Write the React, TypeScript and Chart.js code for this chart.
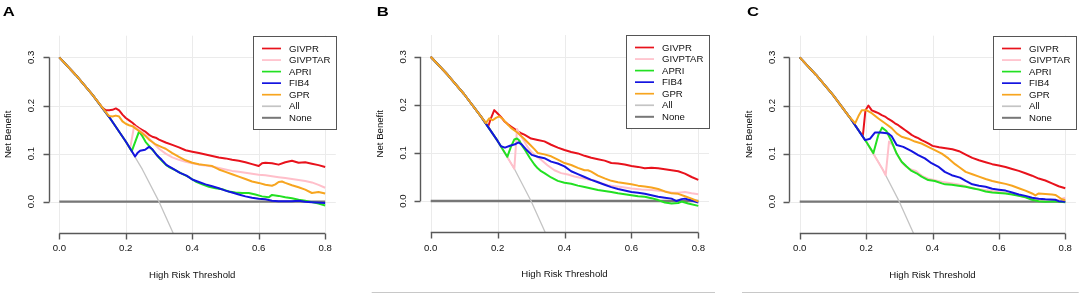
import React, { useEffect, useRef } from "react";
import { Chart, registerables } from "chart.js";
Chart.register(...registerables);

type P = [number, number][];

const xTicks = [0, 0.2, 0.4, 0.6, 0.8];
const xTickLabels = ["0.0", "0.2", "0.4", "0.6", "0.8"];
const yTicks = [0, 0.1, 0.2, 0.3];
const yTickLabels = ["0.0", "0.1", "0.2", "0.3"];
const xTitle = "High Risk Threshold";
const yTitle = "Net Benefit";
const legendNames = ["GIVPR", "GIVPTAR", "APRI", "FIB4", "GPR", "All", "None"];
const panelLetters = ["A", "B", "C"];

const allLine: P = [[0, 0.3], [0.05, 0.263], [0.1, 0.222], [0.15, 0.176], [0.2, 0.125], [0.25, 0.067], [0.3, 0], [0.35, -0.077]];
const noneLine: P = [[0, 0], [0.8, 0]];

// ---- Panel A ----
const A_GIVPR: P = [[0, 0.3], [0.05, 0.263], [0.1, 0.222], [0.13, 0.195], [0.14, 0.19], [0.15, 0.19], [0.16, 0.191], [0.17, 0.194], [0.18, 0.19], [0.19, 0.181], [0.2, 0.174], [0.21, 0.169], [0.22, 0.164], [0.23, 0.158], [0.24, 0.153], [0.25, 0.149], [0.26, 0.145], [0.27, 0.139], [0.28, 0.135], [0.29, 0.133], [0.3, 0.129], [0.32, 0.123], [0.34, 0.118], [0.36, 0.113], [0.38, 0.107], [0.4, 0.104], [0.42, 0.101], [0.44, 0.098], [0.46, 0.095], [0.48, 0.092], [0.5, 0.09], [0.52, 0.087], [0.54, 0.085], [0.56, 0.082], [0.58, 0.078], [0.6, 0.074], [0.61, 0.08], [0.62, 0.081], [0.64, 0.08], [0.66, 0.077], [0.68, 0.082], [0.7, 0.085], [0.72, 0.081], [0.74, 0.082], [0.76, 0.079], [0.78, 0.076], [0.8, 0.072]];
const A_GIVPTAR: P = [[0, 0.3], [0.05, 0.263], [0.1, 0.222], [0.15, 0.176], [0.2, 0.125], [0.213, 0.11], [0.225, 0.157], [0.24, 0.15], [0.26, 0.139], [0.28, 0.124], [0.3, 0.11], [0.32, 0.1], [0.34, 0.092], [0.36, 0.087], [0.38, 0.083], [0.4, 0.08], [0.42, 0.077], [0.44, 0.075], [0.46, 0.073], [0.48, 0.07], [0.5, 0.067], [0.52, 0.064], [0.54, 0.062], [0.56, 0.06], [0.58, 0.058], [0.6, 0.056], [0.62, 0.055], [0.64, 0.053], [0.66, 0.051], [0.68, 0.049], [0.7, 0.047], [0.72, 0.045], [0.74, 0.043], [0.76, 0.04], [0.78, 0.035], [0.8, 0.029]];
const A_APRI: P = [[0, 0.3], [0.05, 0.263], [0.1, 0.222], [0.15, 0.176], [0.2, 0.125], [0.218, 0.105], [0.24, 0.146], [0.25, 0.136], [0.26, 0.124], [0.27, 0.116], [0.28, 0.108], [0.29, 0.1], [0.3, 0.091], [0.31, 0.084], [0.32, 0.077], [0.33, 0.072], [0.35, 0.065], [0.37, 0.058], [0.39, 0.051], [0.41, 0.042], [0.43, 0.036], [0.45, 0.031], [0.47, 0.028], [0.49, 0.026], [0.51, 0.021], [0.53, 0.019], [0.55, 0.018], [0.57, 0.018], [0.59, 0.015], [0.61, 0.011], [0.63, 0.009], [0.64, 0.014], [0.66, 0.012], [0.68, 0.009], [0.7, 0.007], [0.72, 0.004], [0.74, 0.002], [0.76, -0.001], [0.78, -0.004], [0.8, -0.008]];
const A_FIB4: P = [[0, 0.3], [0.05, 0.263], [0.1, 0.222], [0.15, 0.176], [0.2, 0.125], [0.228, 0.094], [0.235, 0.101], [0.243, 0.106], [0.258, 0.108], [0.27, 0.114], [0.28, 0.109], [0.293, 0.097], [0.308, 0.087], [0.323, 0.076], [0.343, 0.068], [0.363, 0.06], [0.383, 0.054], [0.4, 0.046], [0.42, 0.041], [0.44, 0.036], [0.46, 0.032], [0.48, 0.028], [0.5, 0.023], [0.52, 0.019], [0.54, 0.015], [0.56, 0.011], [0.58, 0.008], [0.6, 0.006], [0.62, 0.005], [0.64, 0.002], [0.66, 0.001], [0.7, 0.001], [0.72, 0.002], [0.74, 0.0], [0.76, -0.001], [0.8, -0.003]];
const A_GPR: P = [[0, 0.3], [0.05, 0.263], [0.1, 0.222], [0.13, 0.195], [0.14, 0.186], [0.15, 0.178], [0.16, 0.177], [0.17, 0.179], [0.18, 0.177], [0.19, 0.167], [0.2, 0.162], [0.21, 0.159], [0.22, 0.157], [0.23, 0.152], [0.24, 0.147], [0.25, 0.142], [0.26, 0.136], [0.27, 0.129], [0.28, 0.124], [0.29, 0.119], [0.3, 0.116], [0.31, 0.113], [0.32, 0.11], [0.34, 0.101], [0.36, 0.093], [0.38, 0.086], [0.4, 0.081], [0.42, 0.078], [0.44, 0.076], [0.46, 0.074], [0.48, 0.067], [0.5, 0.062], [0.52, 0.057], [0.54, 0.052], [0.56, 0.047], [0.58, 0.042], [0.6, 0.039], [0.62, 0.035], [0.64, 0.033], [0.65, 0.036], [0.66, 0.041], [0.67, 0.042], [0.68, 0.039], [0.7, 0.034], [0.72, 0.03], [0.74, 0.025], [0.76, 0.018], [0.78, 0.02], [0.8, 0.017]];

// ---- Panel B ----
const B_GIVPR: P = [[0, 0.3], [0.05, 0.263], [0.1, 0.222], [0.15, 0.176], [0.172, 0.155], [0.18, 0.172], [0.19, 0.189], [0.2, 0.182], [0.21, 0.175], [0.22, 0.166], [0.23, 0.16], [0.24, 0.155], [0.25, 0.15], [0.26, 0.145], [0.27, 0.141], [0.28, 0.138], [0.29, 0.134], [0.3, 0.13], [0.32, 0.127], [0.34, 0.124], [0.36, 0.117], [0.38, 0.111], [0.4, 0.106], [0.42, 0.102], [0.44, 0.099], [0.46, 0.094], [0.48, 0.09], [0.5, 0.087], [0.52, 0.084], [0.54, 0.079], [0.56, 0.078], [0.58, 0.076], [0.6, 0.073], [0.62, 0.071], [0.64, 0.068], [0.66, 0.069], [0.68, 0.068], [0.7, 0.066], [0.72, 0.064], [0.74, 0.062], [0.76, 0.057], [0.78, 0.05], [0.8, 0.044]];
const B_GIVPTAR: P = [[0, 0.3], [0.05, 0.263], [0.1, 0.222], [0.15, 0.176], [0.2, 0.125], [0.25, 0.067], [0.258, 0.15], [0.265, 0.14], [0.28, 0.124], [0.29, 0.112], [0.3, 0.103], [0.31, 0.096], [0.33, 0.086], [0.35, 0.074], [0.37, 0.064], [0.39, 0.058], [0.41, 0.055], [0.43, 0.051], [0.45, 0.048], [0.47, 0.045], [0.49, 0.043], [0.51, 0.037], [0.53, 0.033], [0.55, 0.031], [0.57, 0.029], [0.6, 0.026], [0.63, 0.024], [0.66, 0.023], [0.69, 0.021], [0.72, 0.018], [0.74, 0.017], [0.76, 0.019], [0.78, 0.016], [0.8, 0.014]];
const B_APRI: P = [[0, 0.3], [0.05, 0.263], [0.1, 0.222], [0.15, 0.176], [0.2, 0.125], [0.229, 0.092], [0.24, 0.113], [0.25, 0.128], [0.258, 0.13], [0.265, 0.126], [0.272, 0.116], [0.282, 0.106], [0.297, 0.089], [0.31, 0.076], [0.32, 0.068], [0.33, 0.062], [0.34, 0.058], [0.36, 0.049], [0.38, 0.042], [0.4, 0.038], [0.42, 0.036], [0.44, 0.032], [0.46, 0.029], [0.48, 0.026], [0.5, 0.023], [0.52, 0.021], [0.54, 0.019], [0.56, 0.016], [0.58, 0.014], [0.6, 0.012], [0.62, 0.01], [0.64, 0.009], [0.66, 0.006], [0.68, 0.002], [0.7, -0.003], [0.72, -0.005], [0.74, -0.004], [0.75, -0.001], [0.77, -0.005], [0.8, -0.01]];
const B_FIB4: P = [[0, 0.3], [0.05, 0.263], [0.1, 0.222], [0.15, 0.176], [0.2, 0.125], [0.21, 0.114], [0.222, 0.111], [0.237, 0.115], [0.252, 0.118], [0.262, 0.122], [0.272, 0.118], [0.287, 0.106], [0.302, 0.096], [0.32, 0.092], [0.34, 0.089], [0.36, 0.082], [0.38, 0.078], [0.4, 0.072], [0.42, 0.062], [0.44, 0.056], [0.46, 0.05], [0.48, 0.044], [0.5, 0.039], [0.52, 0.034], [0.54, 0.029], [0.56, 0.025], [0.58, 0.022], [0.6, 0.019], [0.62, 0.017], [0.64, 0.015], [0.66, 0.012], [0.68, 0.009], [0.7, 0.007], [0.72, 0.005], [0.735, 0.0], [0.75, 0.004], [0.76, 0.005], [0.775, 0.002], [0.8, -0.003]];
const B_GPR: P = [[0, 0.3], [0.05, 0.263], [0.1, 0.222], [0.15, 0.176], [0.165, 0.162], [0.175, 0.172], [0.185, 0.168], [0.195, 0.173], [0.205, 0.176], [0.215, 0.171], [0.225, 0.163], [0.24, 0.152], [0.26, 0.142], [0.28, 0.129], [0.3, 0.115], [0.31, 0.108], [0.32, 0.1], [0.34, 0.097], [0.36, 0.093], [0.38, 0.086], [0.4, 0.079], [0.42, 0.075], [0.44, 0.069], [0.46, 0.064], [0.47, 0.064], [0.48, 0.061], [0.5, 0.053], [0.52, 0.047], [0.54, 0.042], [0.56, 0.039], [0.58, 0.037], [0.6, 0.035], [0.62, 0.032], [0.64, 0.03], [0.66, 0.028], [0.68, 0.025], [0.7, 0.02], [0.72, 0.016], [0.74, 0.015], [0.76, 0.01], [0.78, 0.005], [0.8, -0.001]];

// ---- Panel C ----
const C_GIVPR: P = [[0, 0.3], [0.05, 0.263], [0.1, 0.222], [0.15, 0.176], [0.19, 0.136], [0.198, 0.19], [0.207, 0.2], [0.217, 0.19], [0.227, 0.187], [0.237, 0.184], [0.247, 0.18], [0.257, 0.177], [0.267, 0.172], [0.277, 0.168], [0.287, 0.163], [0.297, 0.159], [0.307, 0.154], [0.317, 0.149], [0.327, 0.144], [0.337, 0.139], [0.347, 0.135], [0.357, 0.132], [0.367, 0.128], [0.377, 0.125], [0.39, 0.12], [0.4, 0.116], [0.42, 0.113], [0.44, 0.111], [0.46, 0.109], [0.48, 0.105], [0.5, 0.098], [0.52, 0.091], [0.54, 0.086], [0.56, 0.082], [0.58, 0.078], [0.6, 0.075], [0.62, 0.072], [0.64, 0.068], [0.66, 0.064], [0.68, 0.059], [0.7, 0.054], [0.72, 0.048], [0.74, 0.044], [0.76, 0.038], [0.78, 0.032], [0.8, 0.028]];
const C_GIVPTAR: P = [[0, 0.3], [0.05, 0.263], [0.1, 0.222], [0.15, 0.176], [0.2, 0.125], [0.25, 0.067], [0.259, 0.055], [0.269, 0.125], [0.28, 0.118], [0.29, 0.103], [0.3, 0.09], [0.31, 0.08], [0.32, 0.073], [0.33, 0.068], [0.34, 0.066], [0.35, 0.064], [0.36, 0.058], [0.37, 0.053], [0.39, 0.047], [0.41, 0.044], [0.43, 0.041], [0.45, 0.039], [0.47, 0.037], [0.49, 0.034], [0.51, 0.03], [0.53, 0.027], [0.55, 0.025], [0.57, 0.023], [0.6, 0.02], [0.63, 0.017], [0.66, 0.013], [0.69, 0.008], [0.72, 0.003], [0.75, 0.002], [0.78, 0.004], [0.8, 0.008]];
const C_APRI: P = [[0, 0.3], [0.05, 0.263], [0.1, 0.222], [0.15, 0.176], [0.2, 0.125], [0.222, 0.101], [0.237, 0.139], [0.248, 0.154], [0.261, 0.147], [0.277, 0.125], [0.292, 0.1], [0.307, 0.083], [0.322, 0.073], [0.337, 0.064], [0.352, 0.059], [0.367, 0.052], [0.387, 0.045], [0.407, 0.043], [0.428, 0.038], [0.438, 0.036], [0.458, 0.035], [0.478, 0.033], [0.5, 0.031], [0.52, 0.028], [0.54, 0.025], [0.56, 0.021], [0.58, 0.019], [0.6, 0.018], [0.62, 0.017], [0.64, 0.015], [0.66, 0.012], [0.68, 0.009], [0.7, 0.004], [0.72, 0.001], [0.74, 0.0], [0.77, 0.001], [0.8, -0.001]];
const C_FIB4: P = [[0, 0.3], [0.05, 0.263], [0.1, 0.222], [0.15, 0.176], [0.197, 0.128], [0.212, 0.131], [0.227, 0.144], [0.242, 0.144], [0.257, 0.143], [0.267, 0.142], [0.277, 0.136], [0.292, 0.118], [0.312, 0.114], [0.337, 0.105], [0.357, 0.097], [0.377, 0.09], [0.397, 0.08], [0.417, 0.073], [0.437, 0.062], [0.458, 0.055], [0.483, 0.05], [0.5, 0.043], [0.52, 0.036], [0.54, 0.033], [0.56, 0.031], [0.58, 0.027], [0.6, 0.025], [0.62, 0.023], [0.64, 0.019], [0.66, 0.015], [0.68, 0.012], [0.7, 0.008], [0.72, 0.006], [0.74, 0.005], [0.77, 0.004], [0.78, 0.001], [0.8, 0.0]];
const C_GPR: P = [[0, 0.3], [0.05, 0.263], [0.1, 0.222], [0.15, 0.176], [0.167, 0.163], [0.177, 0.178], [0.187, 0.19], [0.202, 0.19], [0.217, 0.184], [0.237, 0.173], [0.257, 0.163], [0.277, 0.153], [0.292, 0.142], [0.307, 0.135], [0.327, 0.131], [0.347, 0.125], [0.367, 0.121], [0.387, 0.114], [0.407, 0.107], [0.428, 0.1], [0.448, 0.09], [0.468, 0.078], [0.48, 0.072], [0.5, 0.062], [0.52, 0.057], [0.54, 0.052], [0.56, 0.047], [0.58, 0.043], [0.6, 0.04], [0.62, 0.037], [0.64, 0.033], [0.66, 0.028], [0.68, 0.023], [0.7, 0.017], [0.71, 0.013], [0.72, 0.017], [0.74, 0.016], [0.76, 0.015], [0.77, 0.014], [0.79, 0.005], [0.8, 0.003]];

const COLORS: Record<string, string> = {
  GIVPR: "#e8121c",
  GIVPTAR: "#ffbfca",
  APRI: "#22e022",
  FIB4: "#1414e0",
  GPR: "#f7a51f",
  All: "#c4c4c4",
  None: "#777777",
};

const FONT = '"Liberation Sans", Arial, sans-serif';

type PanelCfg = {
  letter: string;
  left: number;
  width: number;
  pad: { left: number; right: number; top: number; bottom: number };
  letterX: number;
  rule: [number, number] | null;
  series: P[];
};

const panels: PanelCfg[] = [
  { letter: panelLetters[0], left: 0, width: 361, pad: { left: 48.7, right: 25.2, top: 35.7, bottom: 61 }, letterX: 2.7, rule: null, series: [A_GIVPR, A_GIVPTAR, A_APRI, A_FIB4, A_GPR] },
  { letter: panelLetters[1], left: 361, width: 361, pad: { left: 59, right: 13, top: 35, bottom: 61.6 }, letterX: 15.7, rule: [10.7, 354], series: [B_GIVPR, B_GIVPTAR, B_APRI, B_FIB4, B_GPR] },
  { letter: panelLetters[2], left: 722, width: 362, pad: { left: 67.1, right: 8.1, top: 35.7, bottom: 61 }, letterX: 25, rule: [20, 356.7], series: [C_GIVPR, C_GIVPTAR, C_APRI, C_FIB4, C_GPR] },
];

function makePlugin(cfg: PanelCfg) {
  return {
    id: "rstyle" + cfg.letter,
    beforeDatasetsDraw(chart: any) {
      const { ctx, chartArea: ca } = chart;
      const x = chart.scales.x;
      const y = chart.scales.y;
      ctx.save();
      ctx.strokeStyle = "#ebebeb";
      ctx.lineWidth = 1;
      for (const t of xTicks) {
        const px = Math.round(x.getPixelForValue(t)) + 0.5;
        ctx.beginPath();
        ctx.moveTo(px, ca.top);
        ctx.lineTo(px, ca.bottom);
        ctx.stroke();
      }
      for (const v of yTicks) {
        const py = Math.round(y.getPixelForValue(v)) + 0.5;
        ctx.beginPath();
        ctx.moveTo(ca.left, py);
        ctx.lineTo(ca.right, py);
        ctx.stroke();
      }
      ctx.restore();
    },
    afterDatasetsDraw(chart: any) {
      const { ctx, chartArea: ca } = chart;
      const x = chart.scales.x;
      const y = chart.scales.y;
      ctx.save();
      // axes
      ctx.strokeStyle = "#585858";
      ctx.lineWidth = 1.4;
      const by = Math.round(ca.bottom) + 0.5;
      ctx.beginPath();
      ctx.moveTo(x.getPixelForValue(xTicks[0]), by);
      ctx.lineTo(x.getPixelForValue(xTicks[xTicks.length - 1]), by);
      for (const t of xTicks) {
        const px = Math.round(x.getPixelForValue(t)) + 0.5;
        ctx.moveTo(px, by);
        ctx.lineTo(px, by + 6);
      }
      ctx.stroke();
      const lx = Math.round(ca.left) + 0.5;
      ctx.beginPath();
      ctx.moveTo(lx, y.getPixelForValue(yTicks[0]));
      ctx.lineTo(lx, y.getPixelForValue(yTicks[yTicks.length - 1]));
      for (const v of yTicks) {
        const py = Math.round(y.getPixelForValue(v)) + 0.5;
        ctx.moveTo(lx, py);
        ctx.lineTo(lx - 6, py);
      }
      ctx.stroke();

      // tick labels
      ctx.fillStyle = "#111111";
      ctx.font = `9.6px ${FONT}`;
      ctx.textAlign = "center";
      ctx.textBaseline = "middle";
      xTicks.forEach((t, i) => {
        ctx.fillText(xTickLabels[i], x.getPixelForValue(t), ca.bottom + 15.5);
      });
      yTicks.forEach((v, i) => {
        ctx.save();
        ctx.translate(ca.left - 17, y.getPixelForValue(v));
        ctx.rotate(-Math.PI / 2);
        ctx.fillText(yTickLabels[i], 0, 0);
        ctx.restore();
      });
      // titles
      ctx.fillText(xTitle, (ca.left + ca.right) / 2, ca.bottom + 42);
      ctx.save();
      ctx.translate(ca.left - 40, (ca.top + ca.bottom) / 2);
      ctx.rotate(-Math.PI / 2);
      ctx.fillText(yTitle, 0, 0);
      ctx.restore();

      // legend
      const W = 83;
      const H = 93;
      const bx = Math.round(ca.right - W) + 0.5;
      const bt = Math.round(ca.top) + 0.5;
      ctx.fillStyle = "#ffffff";
      ctx.fillRect(bx, bt, W, H);
      ctx.strokeStyle = "#555555";
      ctx.lineWidth = 1;
      ctx.strokeRect(bx, bt, W, H);
      ctx.textAlign = "left";
      legendNames.forEach((name, i) => {
        const yy = bt + 12 + i * 11.55;
        ctx.strokeStyle = COLORS[name];
        ctx.lineWidth = name === "None" ? 2 : 1.7;
        ctx.beginPath();
        ctx.moveTo(bx + 8.5, yy);
        ctx.lineTo(bx + 27.5, yy);
        ctx.stroke();
        ctx.fillStyle = "#111111";
        ctx.fillText(name, bx + 35.5, yy + 0.5);
      });

      // panel letter
      ctx.save();
      ctx.font = `bold 13px ${FONT}`;
      ctx.fillStyle = "#000";
      ctx.textBaseline = "alphabetic";
      ctx.textAlign = "left";
      ctx.translate(cfg.letterX, 16.3);
      ctx.scale(1.28, 1);
      ctx.fillText(cfg.letter, 0, 0);
      ctx.restore();

      // bottom rule
      if (cfg.rule) {
        ctx.strokeStyle = "#c8c8c8";
        ctx.lineWidth = 1;
        ctx.beginPath();
        ctx.moveTo(cfg.rule[0], 292.5);
        ctx.lineTo(cfg.rule[1], 292.5);
        ctx.stroke();
      }
      ctx.restore();
    },
  };
}

const toXY = (p: P) => p.map(([t, v]) => ({ x: t, y: v }));

function Panel({ cfg }: { cfg: PanelCfg }) {
  const ref = useRef<HTMLCanvasElement>(null);
  useEffect(() => {
    const modelNames = legendNames.slice(0, 5);
    const modelOrder = [5, 4, 3, 2, 1];
    const datasets: any[] = [
      { label: "None", data: toXY(noneLine), borderColor: COLORS.None, borderWidth: 2.4, order: 7 },
      { label: "All", data: toXY(allLine), borderColor: COLORS.All, borderWidth: 1.3, order: 6 },
      ...modelNames.map((n, i) => ({
        label: n,
        data: toXY(cfg.series[i]),
        borderColor: COLORS[n],
        borderWidth: 2,
        order: modelOrder[i],
      })),
    ].map((d) => ({ ...d, pointRadius: 0, tension: 0, fill: false, clip: 0, borderJoinStyle: "round", borderCapStyle: "butt" }));

    const chart = new Chart(ref.current as HTMLCanvasElement, {
      type: "line",
      data: { datasets },
      options: {
        responsive: false,
        animation: false,
        events: [],
        layout: { padding: cfg.pad },
        scales: {
          x: { type: "linear", min: -0.032, max: 0.832, display: false },
          y: { type: "linear", min: -0.0652, max: 0.3452, display: false },
        },
        plugins: { legend: { display: false }, tooltip: { enabled: false } },
      },
      plugins: [makePlugin(cfg)],
    } as any);
    return () => chart.destroy();
  }, []);
  return (
    <canvas
      ref={ref}
      width={cfg.width}
      height={294}
      style={{ position: "absolute", left: cfg.left, top: 0, width: cfg.width, height: 294 }}
    />
  );
}

export default function App() {
  return (
    <div style={{ position: "fixed", left: 0, top: 0, width: 1084, height: 294, background: "#ffffff", overflow: "hidden" }}>
      {panels.map((p) => (
        <Panel key={p.letter} cfg={p} />
      ))}
    </div>
  );
}
